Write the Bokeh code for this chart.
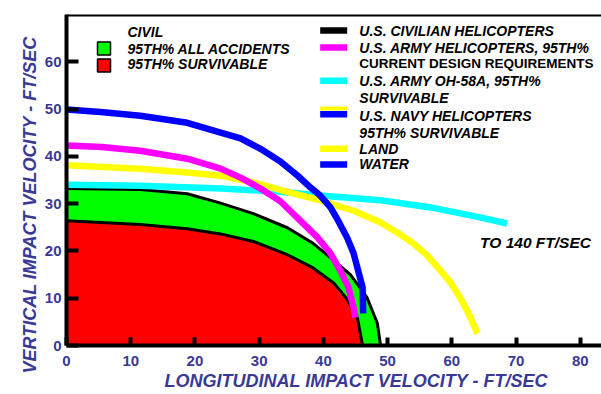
from bokeh.plotting import figure
from bokeh.models import Span, Title, FixedTicker, Range1d, LinearAxis
from bokeh.core.properties import value
from bokeh.embed import file_html
from bokeh.resources import INLINE

# ---- data (ft/sec) ----
civil_all_x = [0, 11.5, 18.8, 24.0, 29.1, 34.4, 38.4, 41.6, 44.2, 46.8, 48.4, 48.9]
civil_all_y = [33.2, 33.0, 32.1, 30.1, 27.9, 24.9, 21.6, 18.0, 15.0, 10.1, 4.7, 0]

civil_surv_x = [0, 11.5, 18.8, 24.0, 29.1, 34.4, 38.4, 41.6, 43.7, 45.3, 46.1]
civil_surv_y = [26.4, 25.6, 24.7, 23.6, 22.0, 19.2, 16.4, 13.2, 9.8, 5.8, 0]

army_x = [0, 5.5, 11.5, 18.8, 24.0, 27.1, 30.2, 33.3, 36.4, 39.1, 41.1, 42.6, 43.9, 44.7, 45.0]
army_y = [42.3, 42.0, 41.2, 39.5, 37.4, 35.5, 33.2, 30.5, 26.4, 22.8, 19.5, 15.9, 12.3, 8.0, 5.9]

oh58_x = [0, 11.5, 24.0, 33.3, 39.5, 48.9, 56.7, 64.4, 68.6]
oh58_y = [34.0, 33.8, 33.2, 32.5, 31.7, 30.7, 29.2, 27.1, 25.8]

navy_land_x = [0, 11.5, 18.8, 24.0, 29.1, 34.4, 39.5, 44.7, 48.9, 51.5, 54.0, 56.2, 58.2,
               59.8, 61.3, 62.6, 64.0]
navy_land_y = [38.1, 37.4, 36.6, 35.9, 34.5, 32.5, 30.7, 28.5, 26.0, 23.9, 21.6, 19.0, 15.9,
               13.3, 10.1, 6.8, 2.5]

navy_water_x = [0, 5.3, 11.5, 18.8, 24.0, 27.1, 30.2, 33.3, 36.0, 38.0, 39.5, 41.1, 42.3,
                43.7, 44.7, 45.4, 46.1, 46.2]
navy_water_y = [49.9, 49.4, 48.6, 47.1, 45.0, 43.8, 41.6, 38.9, 35.9, 33.4, 31.7, 29.2, 26.4,
                22.8, 19.5, 15.9, 12.3, 6.8]

x_ticks = [0, 10, 20, 30, 40, 50, 60, 70, 80]
y_ticks = [0, 10, 20, 30, 40, 50, 60]

x_title = "LONGITUDINAL IMPACT VELOCITY  -  FT/SEC"
y_title = "VERTICAL IMPACT VELOCITY  -  FT/SEC"
note_text = "TO 140 FT/SEC"

civil_legend = ["CIVIL", "95TH%  ALL ACCIDENTS", "95TH%  SURVIVABLE"]
right_legend = ["U.S. CIVILIAN HELICOPTERS", "U.S. ARMY HELICOPTERS,  95TH%",
                "CURRENT DESIGN REQUIREMENTS", "U.S. ARMY OH-58A,  95TH%",
                "SURVIVABLE", "U.S. NAVY HELICOPTERS", "95TH% SURVIVABLE",
                "LAND", "WATER"]

GREEN = "#00ff00"
RED = "#ff0000"
MAGENTA = "#ff00ff"
CYAN = "#00ffff"
YELLOW = "#ffff00"
BLUE = "#0000ff"
AXIS_TXT = "#3a3a96"
FONT = value("Liberation Sans")

p = figure(width=601, height=394, x_range=Range1d(0, 83.3), y_range=Range1d(0, 70),
           output_backend="svg", toolbar_location=None,
           min_border_left=66, min_border_right=0, min_border_top=14, min_border_bottom=49)
p.outline_line_color = None
p.xgrid.visible = False
p.ygrid.visible = False

# regions
p.patch(x=[0] + civil_all_x, y=[0] + civil_all_y, fill_color=GREEN, line_color=None)
p.patch(x=[0] + civil_surv_x, y=[0] + civil_surv_y, fill_color=RED, line_color=None)
p.line(civil_all_x, civil_all_y, line_color="black", line_width=3, line_join="round")
p.line(civil_surv_x, civil_surv_y, line_color="black", line_width=3, line_join="round")

# curves
for xs, ys, c in ((oh58_x, oh58_y, CYAN), (navy_land_x, navy_land_y, YELLOW),
                  (army_x, army_y, MAGENTA), (navy_water_x, navy_water_y, BLUE)):
    p.line(xs, ys, line_color=c, line_width=6.5, line_join="round")

# axes
for ax in (p.xaxis[0], p.yaxis[0]):
    ax.axis_line_color = "black"
    ax.axis_line_width = 4
    ax.major_tick_line_color = "black"
    ax.major_tick_line_width = 4
    ax.major_tick_out = 0
    ax.minor_tick_line_color = None
    ax.major_label_text_color = AXIS_TXT
    ax.major_label_text_font = "Liberation Sans"
    ax.major_label_text_font_style = "bold"
    ax.major_label_text_font_size = "15px"
p.xaxis[0].ticker = FixedTicker(ticks=x_ticks)
p.yaxis[0].ticker = FixedTicker(ticks=y_ticks)
p.xaxis[0].major_tick_in = 8
p.yaxis[0].major_tick_in = 12
p.xaxis[0].major_label_standoff = 10
p.yaxis[0].major_label_standoff = 5

p.add_layout(Span(location=70, dimension="width", line_color="black", line_width=4))

# empty spacer axis between the tick labels and the vertical title
spacer = LinearAxis(ticker=FixedTicker(ticks=[]), axis_line_color=None,
                    major_tick_line_color=None, minor_tick_line_color=None,
                    major_tick_in=0, major_tick_out=14, major_label_text_font_size="0px")
p.add_layout(spacer, "left")

# axis titles
p.add_layout(Title(text=x_title, align="left", offset=98, standoff=0,
                   text_font="Liberation Sans", text_font_style="bold italic",
                   text_font_size="18px", text_color=AXIS_TXT), "below")
p.add_layout(Title(text=y_title, align="left", offset=-28, standoff=0, vertical_align="top",
                   text_font="Liberation Sans", text_font_style="bold italic",
                   text_font_size="18px", text_color=AXIS_TXT), "left")

# left legend
p.rect(x=[5.84, 5.84], y=[62.8, 59.2], width=13, height=13, width_units="screen",
       height_units="screen", fill_color=[GREEN, RED], line_color="black", line_width=1.5)
p.text(x=[9.5, 9.5, 9.5], y=[66.4, 62.8, 59.6], text=civil_legend, text_font=FONT,
       text_font_style="bold italic", text_font_size="14px", text_color="black",
       text_baseline="middle")

# right legend samples
sx0, sx1 = 39.5, 43.7
p.segment(x0=[sx0] * 6, x1=[sx1] * 6, y0=[66.6, 63.0, 56.0, 41.6, 38.3, 48.9],
          y1=[66.6, 63.0, 56.0, 41.6, 38.3, 48.9],
          line_color=["black", MAGENTA, CYAN, YELLOW, BLUE, BLUE], line_width=6.5)
p.segment(x0=[sx0], x1=[sx1], y0=[50.1], y1=[50.1], line_color=YELLOW, line_width=4)

rows_y = [66.6, 63.0, 59.6, 56.0, 52.4, 48.6, 45.0, 41.6, 38.3]
italic_idx = [0, 1, 3, 4, 5, 6, 7, 8]
p.text(x=[45.6] * len(italic_idx), y=[rows_y[i] for i in italic_idx],
       text=[right_legend[i] for i in italic_idx], text_font=FONT,
       text_font_style="bold italic", text_font_size="14px", text_color="black",
       text_baseline="middle")
p.text(x=[45.6], y=[rows_y[2]], text=[right_legend[2]], text_font=FONT,
       text_font_style="bold", text_font_size="13.5px", text_color="black",
       text_baseline="middle")

p.text(x=[64.4], y=[21.8], text=[note_text], text_font=FONT, text_font_style="bold italic",
       text_font_size="15.5px", text_color="black", text_baseline="middle")

open("out.html", "w").write(file_html(p, INLINE))
